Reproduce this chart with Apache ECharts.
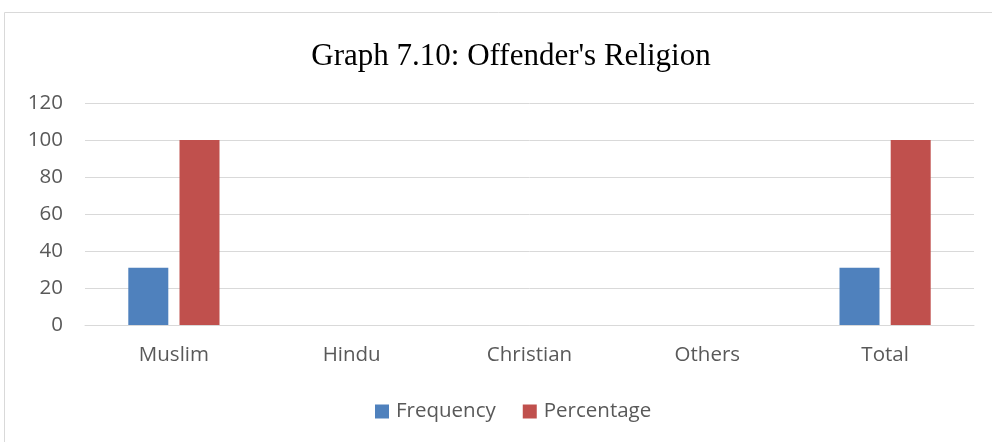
<!DOCTYPE html>
<html>
<head>
<meta charset="utf-8">
<script src="https://cdn.jsdelivr.net/npm/echarts@6/dist/echarts.min.js"></script>
<style>
    html, body { margin: 0; padding: 0; background: #fff; }
    #chart { width: 992px; height: 442px; }
</style>
</head>
<body>
<div id="chart"></div>
<script>
var categories = ['Muslim', 'Hindu', 'Christian', 'Others', 'Total'];
var frequency = [31, 0, 0, 0, 31];
var percentage = [100, 0, 0, 0, 100];
var yTicks = { min: 0, max: 120, interval: 20 };

var myChart = echarts.init(document.getElementById('chart'));

var labelFont = '"Open Sans", Lato, sans-serif';

var option = {
    animation: false,
    backgroundColor: '#fff',
    graphic: [
        {
            type: 'rect',
            shape: { x: 4.5, y: 12.5, width: 1000, height: 440 },
            style: { fill: 'none', stroke: '#d9d9d9', lineWidth: 1 },
            silent: true
        }
    ],
    title: {
        text: "Graph 7.10: Offender's Religion",
        left: 506,
        textAlign: 'center',
        top: 36,
        textStyle: {
            fontFamily: '"Liberation Serif", serif',
            fontWeight: 'normal',
            fontSize: 31,
            color: '#000'
        }
    },
    legend: {
        data: ['Frequency', 'Percentage'],
        bottom: 15,
        left: 370,
        icon: 'rect',
        itemWidth: 14,
        itemHeight: 14,
        itemGap: 27,
        textStyle: {
            fontFamily: labelFont,
            fontSize: 20.5,
            color: '#595959',
            padding: [0, 0, 0, 2]
        }
    },
    grid: {
        left: 85,
        right: 18,
        top: 103,
        bottom: 117,
        containLabel: false
    },
    xAxis: {
        type: 'category',
        data: categories,
        axisLine: { lineStyle: { color: '#d9d9d9' } },
        axisTick: { show: false },
        axisLabel: {
            margin: 20,
            fontFamily: labelFont,
            fontSize: 20.5,
            color: '#595959'
        }
    },
    yAxis: {
        type: 'value',
        min: yTicks.min,
        max: yTicks.max,
        interval: yTicks.interval,
        axisLine: { show: false },
        axisTick: { show: false },
        splitLine: { lineStyle: { color: '#d9d9d9', width: 1 } },
        axisLabel: {
            margin: 22,
            fontFamily: labelFont,
            fontSize: 20.5,
            color: '#595959'
        }
    },
    series: [
        {
            name: 'Frequency',
            type: 'bar',
            data: frequency,
            barWidth: 40,
            barGap: '28%',
            itemStyle: { color: '#4f81bd' }
        },
        {
            name: 'Percentage',
            type: 'bar',
            data: percentage,
            barWidth: 40,
            itemStyle: { color: '#c0504d' }
        }
    ]
};

myChart.setOption(option);
</script>
</body>
</html>
